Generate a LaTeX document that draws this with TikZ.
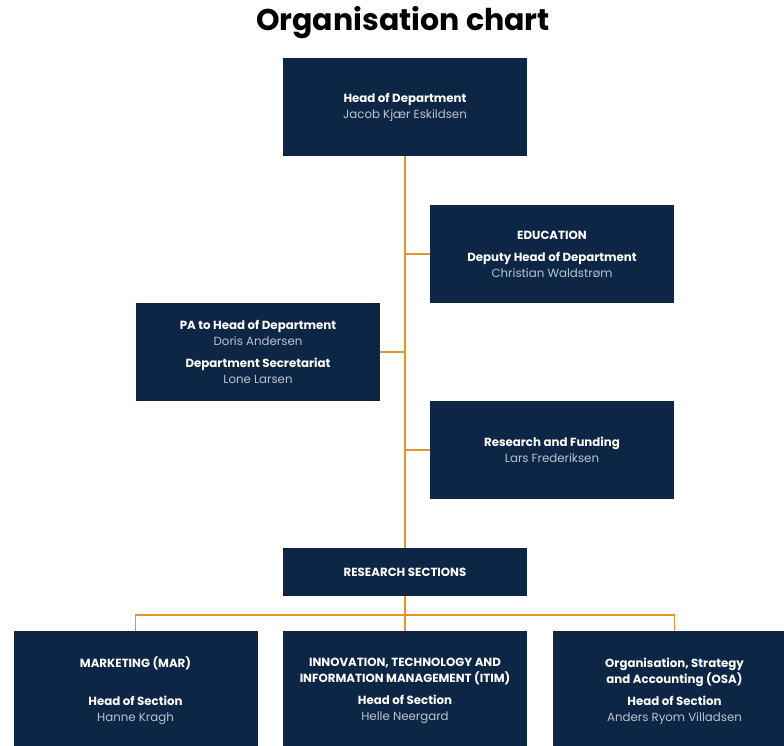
\documentclass[tikz,border=0pt]{standalone}
\usepackage{fontspec}
\setmainfont{Poppins}
\definecolor{boxnavy}{HTML}{0E2646}
\definecolor{lineorange}{HTML}{E8922E}
\definecolor{namegrey}{HTML}{B9C3D1}
\newcommand{\who}[1]{{\color{namegrey}#1}}

\tikzset{
  unit/.style={fill=boxnavy, text=white, minimum width=244pt, minimum height=98pt,
    inner sep=0pt, align=center, font=\fontsize{11.8}{16}\selectfont},
  link/.style={draw=lineorange, line width=1.8pt},
}

\begin{document}
\begin{tikzpicture}[x=1pt,y=-1pt]
\useasboundingbox (0,0) rectangle (784,746);
\clip (0,0) rectangle (784,746);

\node[font=\fontsize{30}{34}\selectfont\bfseries] (title) at (403,23) {Organisation chart};

% top part
\node[unit] (head) at (405,107) {\textbf{Head of Department}\\\who{Jacob Kjær Eskildsen}};
\node[unit] (edu) at (552,254) {\textbf{EDUCATION}\\[6pt]\textbf{Deputy Head of Department}\\\who{Christian Waldstrøm}};
\node[unit] (pa) at (258,352) {\textbf{PA to Head of Department}\\\who{Doris Andersen}\\[6pt]\textbf{Department Secretariat}\\\who{Lone Larsen}};
\node[unit] (funding) at (552,450) {\textbf{Research and Funding}\\\who{Lars Frederiksen}};
\node[unit, minimum height=48pt] (sections) at (405,572) {\textbf{RESEARCH SECTIONS}};

% sections
\node[unit, minimum height=120pt] (mar) at (135.5,691) {\textbf{MARKETING (MAR)}\\\mbox{}\\[6pt]\textbf{Head of Section}\\\who{Hanne Kragh}};
\node[unit, minimum height=120pt] (itim) at (405,691) {\textbf{INNOVATION, TECHNOLOGY AND}\\\textbf{INFORMATION MANAGEMENT (ITIM)}\\[6pt]\textbf{Head of Section}\\\who{Helle Neergard}};
\node[unit, minimum height=120pt] (osa) at (674.5,691) {\textbf{Organisation, Strategy}\\\textbf{and Accounting (OSA)}\\[6pt]\textbf{Head of Section}\\\who{Anders Ryom Villadsen}};

\coordinate (bus) at (405,615);

\draw[link] (head.south) -- (sections.north);
\draw[link] (edu.west) -- (edu.west -| head.south);
\draw[link] (pa.east) -- (pa.east -| head.south);
\draw[link] (funding.west) -- (funding.west -| head.south);
\draw[link] (sections.south) -- (itim.north);
\draw[link] (mar.north) |- (bus) -| (osa.north);
\end{tikzpicture}
\end{document}
